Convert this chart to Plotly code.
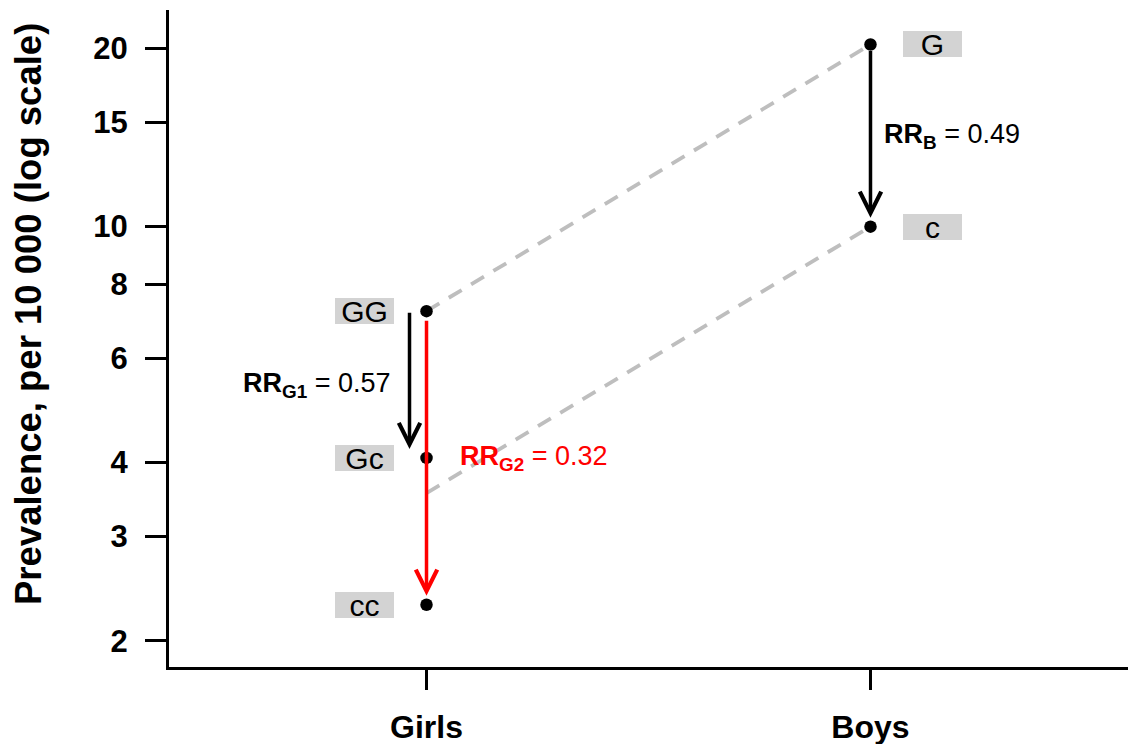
import math
import plotly.graph_objects as go

# ---- data ----
groups = ["Girls", "Boys"]
girls_labels = ["GG", "Gc", "cc"]
girls_prev = [7.2, 4.07, 2.3]
boys_labels = ["G", "c"]
boys_prev = [20.3, 10.0]
# dashed reference lines (girls end, boys end)
dash_girls = [7.2, 3.55]
dash_boys = [20.3, 10.0]
rr_names = ["B", "G1", "G2"]
rr_values = ["0.49", "0.57", "0.32"]
y_ticks = [2, 3, 4, 6, 8, 10, 15, 20]

FONT = "Liberation Sans"
xg, xb = 0, 1  # positions of Girls / Boys

fig = go.Figure()

# dashed lines
for a, b in zip(dash_girls, dash_boys):
    fig.add_trace(go.Scatter(x=[xg, xb], y=[a, b], mode="lines",
                             line=dict(color="#bebebe", width=3.8, dash="15px,11px"),
                             hoverinfo="skip", showlegend=False))

# points
fig.add_trace(go.Scatter(x=[xg] * len(girls_prev) + [xb] * len(boys_prev),
                         y=girls_prev + boys_prev, mode="markers",
                         marker=dict(color="black", size=12.5),
                         showlegend=False))

ann = []
L = math.log10

# labels in grey boxes
def add_label(x, val, text, shift):
    ann.append(dict(x=x, y=L(val), xref="x", yref="y", text=text, showarrow=False,
                    width=59, height=26, bgcolor="#d3d3d3", borderpad=0, borderwidth=0,
                    align="center", valign="middle",
                    xshift=shift, xanchor="center", yanchor="middle",
                    font=dict(family=FONT, size=30, color="black")))

for lab, v in zip(girls_labels, girls_prev):
    add_label(xg, v, lab, -62)
for lab, v in zip(boys_labels, boys_prev):
    add_label(xb, v, lab, 62)

# arrows
def add_arrow(x, v0, v1, color, shift, startstandoff):
    ann.append(dict(x=x, y=L(v1), ax=x, ay=L(v0), xref="x", yref="y",
                    axref="x", ayref="y", text="", showarrow=True,
                    arrowhead=5, arrowsize=1.2, arrowwidth=3.5, arrowcolor=color,
                    standoff=9, startstandoff=startstandoff, xshift=shift))

add_arrow(xb, boys_prev[0], boys_prev[1], "black", 0, 5)
add_arrow(xg, girls_prev[0], girls_prev[1], "black", -17, 0)
add_arrow(xg, girls_prev[0], girls_prev[2], "red", 0, 8)

# RR texts
def rr_text(name, val):
    return f"<b>RR</b><sub><b>{name}</b></sub> = {val}"

ann.append(dict(x=xb, y=(L(boys_prev[0]) + L(boys_prev[1])) / 2, xref="x", yref="y",
                text=rr_text(rr_names[0], rr_values[0]), showarrow=False,
                xanchor="left", yanchor="middle", xshift=12,
                font=dict(family=FONT, size=27, color="black")))
ann.append(dict(x=xg, y=(L(girls_prev[0]) + L(girls_prev[1])) / 2, xref="x", yref="y",
                text=rr_text(rr_names[1], rr_values[1]), showarrow=False,
                xanchor="right", yanchor="middle", xshift=-34,
                font=dict(family=FONT, size=27, color="black")))
ann.append(dict(x=xg, y=(L(girls_prev[0]) + L(girls_prev[2])) / 2, xref="x", yref="y",
                text=rr_text(rr_names[2], rr_values[2]), showarrow=False,
                xanchor="left", yanchor="middle", xshift=31,
                font=dict(family=FONT, size=27, color="red")))

# y title
ann.append(dict(x=(28 - 169) / 959, y=(667 - 314) / 657, xref="paper", yref="paper",
                text="Prevalence, per 10 000 (log scale)", textangle=-90, showarrow=False,
                xanchor="center", yanchor="middle",
                font=dict(family=FONT, size=36.5, color="black", weight="bold")))

fig.update_layout(
    width=1134, height=744,
    margin=dict(l=169, r=6, t=10, b=77, autoexpand=False),
    paper_bgcolor="white", plot_bgcolor="white",
    showlegend=False,
    annotations=ann,
    xaxis=dict(range=[-0.58, 1.58], tickvals=[xg, xb], ticktext=groups, automargin=False,
               showgrid=False, zeroline=False, showline=True, linecolor="black",
               linewidth=3, ticks="outside", ticklen=20, tickwidth=3, tickcolor="black",
               ticklabelstandoff=10,
               tickfont=dict(family=FONT, size=32, color="black", weight="bold")),
    yaxis=dict(type="log", range=[0.2566, 1.3657], tickvals=y_ticks, automargin=False,
               ticktext=[str(t) for t in y_ticks],
               showgrid=False, zeroline=False, showline=True, linecolor="black",
               linewidth=3, ticks="outside", ticklen=21, tickwidth=3, tickcolor="black",
               ticklabelstandoff=11,
               tickfont=dict(family=FONT, size=31, color="black", weight="bold")),
)

fig.write_html("out.html")
